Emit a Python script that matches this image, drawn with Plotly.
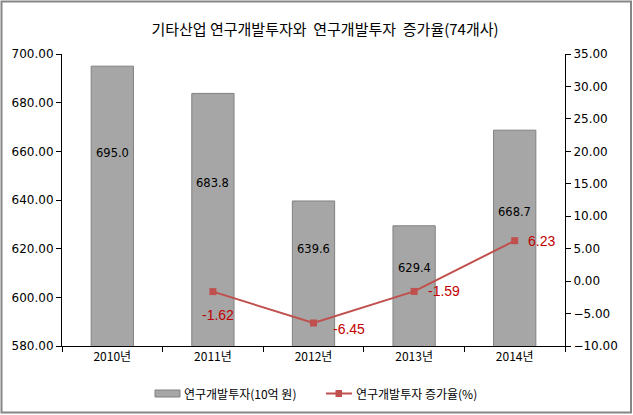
import plotly.graph_objects as go

years = ["2010년", "2011년", "2012년", "2013년", "2014년"]
rnd_invest = [695.0, 683.8, 639.6, 629.4, 668.7]
growth_years = ["2011년", "2012년", "2013년", "2014년"]
growth_rate = [-1.62, -6.45, -1.59, 6.23]

W, H = 633, 415
L, R, T, B = 62, 68, 54, 69
pw = W - L - R
ph = H - T - B

BAR_COLOR = "#A6A6A6"
LINE_COLOR = "#C0504D"

fig = go.Figure()
fig.add_trace(go.Bar(
    x=years, y=rnd_invest, name="연구개발투자(10억 원)",
    marker=dict(color=BAR_COLOR, line=dict(color="#808080", width=1)),
    width=0.42, yaxis="y", showlegend=False,
))
fig.add_trace(go.Scatter(
    x=growth_years, y=growth_rate, name="연구개발투자 증가율(%)",
    mode="lines+markers", yaxis="y2", showlegend=False,
    line=dict(color=LINE_COLOR, width=2),
    marker=dict(symbol="square", size=7, color=LINE_COLOR),
))

# bar value labels (inside the bars, roughly two-thirds up as in the reference)
bar_label_dy = [10, -2, 2, -1, -7]
for x, v, dy in zip(years, rnd_invest, bar_label_dy):
    fig.add_annotation(x=x, y=580 + 0.655 * (v - 580), xref="x", yref="y",
                       text=f"{v:.1f}", showarrow=False, yshift=dy,
                       font=dict(family="DejaVu Sans", size=11.5, color="black"))

# line value labels
offsets = [(5, -23, "center"), (17, -6, "left"), (12, 0, "left"), (11, 0, "left")]
for x, v, (dx, dy, anc) in zip(growth_years, growth_rate, offsets):
    fig.add_annotation(x=x, y=v, xref="x", yref="y2", text=f"{v:.2f}",
                       showarrow=False, xshift=dx, yshift=dy, xanchor=anc,
                       font=dict(family="Liberation Sans, Arial", size=14, color="#C00000"))

def px(xp):
    return (xp - L) / pw

def py(yp):
    return (H - B - yp) / ph

# outer border
fig.add_shape(type="rect", xref="paper", yref="paper",
              x0=px(1.5), x1=px(631), y0=py(412.5), y1=py(1.5),
              line=dict(color="#868686", width=2), fillcolor="rgba(0,0,0,0)")

# custom legend
fig.add_shape(type="rect", xref="paper", yref="paper",
              x0=px(155), x1=px(180), y0=py(397), y1=py(390),
              line=dict(color="#808080", width=1), fillcolor=BAR_COLOR)
fig.add_annotation(xref="paper", yref="paper", x=px(182), y=py(393.5),
                   xanchor="left", yanchor="middle", showarrow=False,
                   text="연구개발투자(10억 원)",
                   font=dict(family="Noto Sans CJK KR", size=12, color="black"))
fig.add_shape(type="line", xref="paper", yref="paper",
              x0=px(326), x1=px(352), y0=py(393.5), y1=py(393.5),
              line=dict(color=LINE_COLOR, width=2))
fig.add_shape(type="rect", xref="paper", yref="paper",
              x0=px(335.5), x1=px(342), y0=py(397), y1=py(390),
              line=dict(color=LINE_COLOR, width=0), fillcolor=LINE_COLOR)
fig.add_annotation(xref="paper", yref="paper", x=px(354), y=py(393.5),
                   xanchor="left", yanchor="middle", showarrow=False,
                   text="연구개발투자 증가율(%)",
                   font=dict(family="Noto Sans CJK KR", size=12, color="black"))

tickfont = dict(family="DejaVu Sans", size=12, color="black")
fig.update_layout(
    width=W, height=H,
    margin=dict(l=L, r=R, t=T, b=B, autoexpand=False),
    paper_bgcolor="white", plot_bgcolor="white",
    title=dict(text="기타산업 연구개발투자와\u00a0\u00a0연구개발투자\u00a0\u00a0증가율(74개사)",
               x=325 / W, xanchor="center", y=1 - 30 / H, yanchor="middle",
               font=dict(family="Noto Sans CJK KR", size=15, color="black")),
    xaxis=dict(type="category", showline=True, linecolor="black", linewidth=1,
               ticks="outside", ticklen=5, tickcolor="black", tickson="boundaries",
               tickfont=dict(family="Noto Sans CJK KR, DejaVu Sans", size=12, color="black"),
               showgrid=False, range=[-0.5, 4.5], fixedrange=True),
    yaxis=dict(range=[580, 700], dtick=20, tickformat=".2f", showline=True,
               linecolor="black", linewidth=1, ticks="outside", ticklen=5,
               tickcolor="black", showgrid=False, zeroline=False, tickfont=tickfont),
    yaxis2=dict(range=[-10, 35], dtick=5, tickformat=".2f", overlaying="y", side="right",
                showline=True, linecolor="black", linewidth=1, ticks="outside",
                ticklen=5, tickcolor="black", showgrid=False, zeroline=False,
                tickfont=tickfont),
    showlegend=False,
)

fig.write_html("out.html", config={"displayModeBar": False},
               post_script="document.body.style.margin='0';")
